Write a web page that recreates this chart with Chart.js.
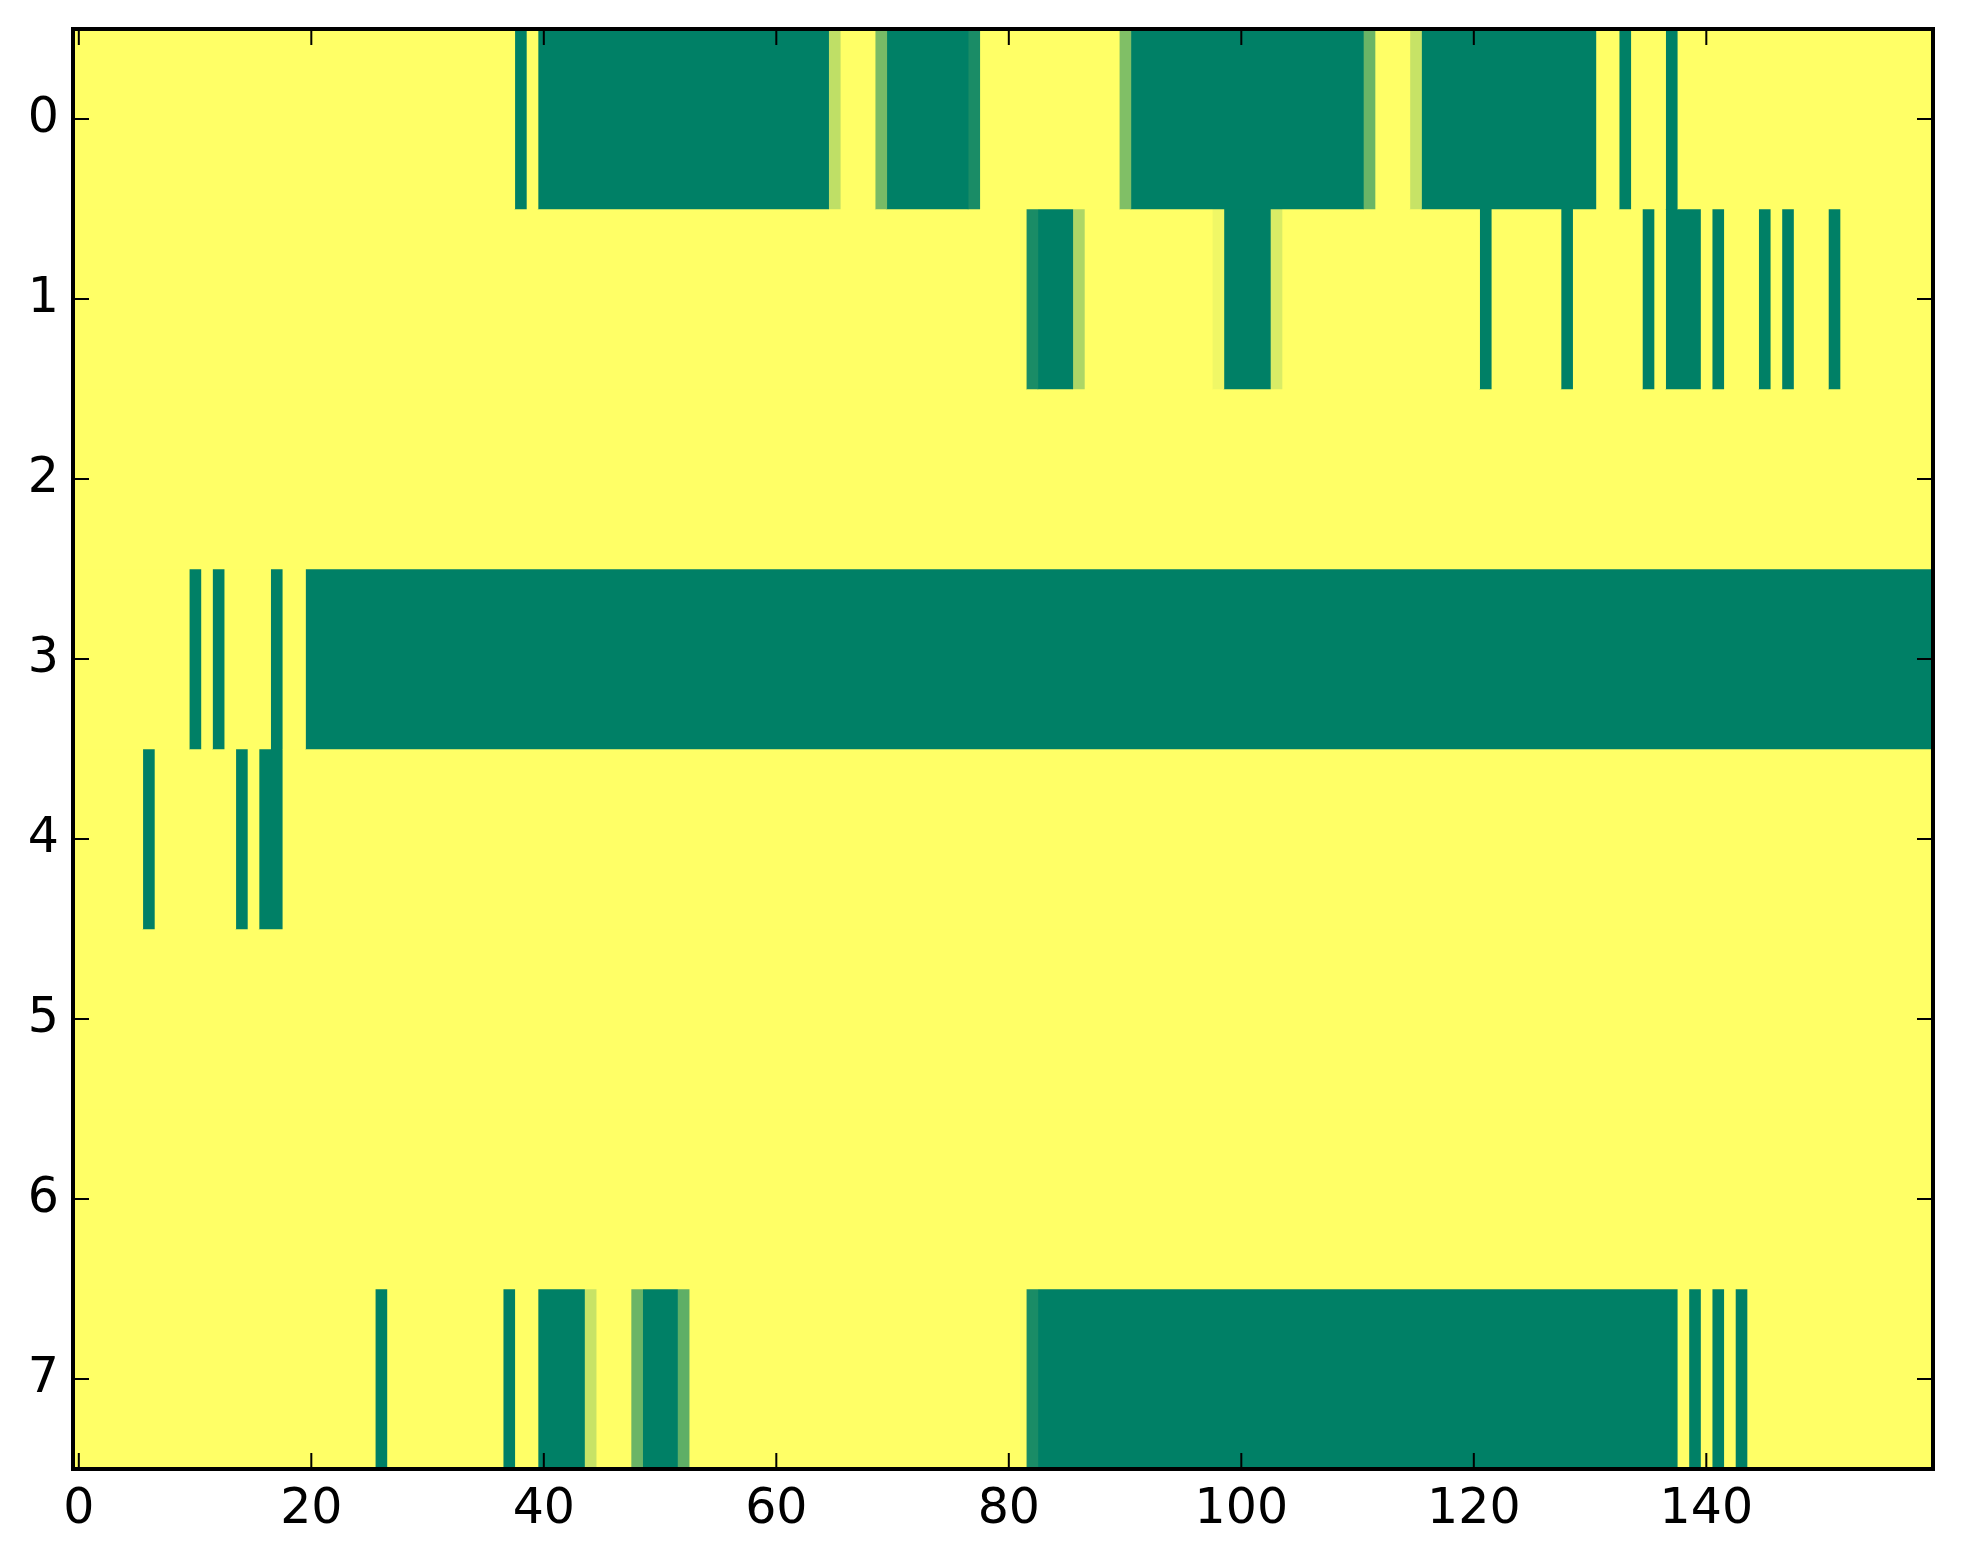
<!DOCTYPE html>
<html><head><meta charset="utf-8">
<script src="https://cdn.jsdelivr.net/npm/chart.js@4.4.1/dist/chart.umd.min.js"></script>
<style>html,body{margin:0;padding:0;background:#fff;overflow:hidden}#wrap{width:1963px;height:1564px}</style>
</head><body><div id="wrap"><canvas id="c" width="1963" height="1564"></canvas></div>
<script>
const rowLabels = ['0','1','2','3','4','5','6','7'];
const xTickValues = [0,20,40,60,80,100,120,140];

const row0 = [
1,1,1,1,1,1,1,1,1,1,1,1,1,1,1,1,1,1,1,1,
1,1,1,1,1,1,1,1,1,1,1,1,1,1,1,1,1,1,0,1,
0,0,0,0,0,0,0,0,0,0,0,0,0,0,0,0,0,0,0,0,
0,0,0,0,0,0.75,1,1,1,0.47,0,0,0,0,0,0,0,0.1,1,1,
1,1,1,1,1,1,1,1,1,1,0.5,0,0,0,0,0,0,0,0,0,
0,0,0,0,0,0,0,0,0,0,0,0.42,1,1,1,0.78,0,0,0,0,
0,0,0,0,0,0,0,0,0,0,0,1,1,0,1,1,1,0,1,1,
1,1,1,1,1,1,1,1,1,1,1,1,1,1,1,1,1,1,1,1];
const row1 = [
1,1,1,1,1,1,1,1,1,1,1,1,1,1,1,1,1,1,1,1,
1,1,1,1,1,1,1,1,1,1,1,1,1,1,1,1,1,1,1,1,
1,1,1,1,1,1,1,1,1,1,1,1,1,1,1,1,1,1,1,1,
1,1,1,1,1,1,1,1,1,1,1,1,1,1,1,1,1,1,1,1,
1,1,0.1,0,0,0,0.68,1,1,1,1,1,1,1,1,1,1,1,0.94,0,
0,0,0,0.85,1,1,1,1,1,1,1,1,1,1,1,1,1,1,1,1,
1,0,1,1,1,1,1,1,0,1,1,1,1,1,1,0,1,0,0,0,
1,0,1,1,1,0,1,0,1,1,1,0,1,1,1,1,1,1,1,1];
const row2 = [
1,1,1,1,1,1,1,1,1,1,1,1,1,1,1,1,1,1,1,1,
1,1,1,1,1,1,1,1,1,1,1,1,1,1,1,1,1,1,1,1,
1,1,1,1,1,1,1,1,1,1,1,1,1,1,1,1,1,1,1,1,
1,1,1,1,1,1,1,1,1,1,1,1,1,1,1,1,1,1,1,1,
1,1,1,1,1,1,1,1,1,1,1,1,1,1,1,1,1,1,1,1,
1,1,1,1,1,1,1,1,1,1,1,1,1,1,1,1,1,1,1,1,
1,1,1,1,1,1,1,1,1,1,1,1,1,1,1,1,1,1,1,1,
1,1,1,1,1,1,1,1,1,1,1,1,1,1,1,1,1,1,1,1];
const row3 = [
1,1,1,1,1,1,1,1,1,1,0,1,0,1,1,1,1,0,1,1,
0,0,0,0,0,0,0,0,0,0,0,0,0,0,0,0,0,0,0,0,
0,0,0,0,0,0,0,0,0,0,0,0,0,0,0,0,0,0,0,0,
0,0,0,0,0,0,0,0,0,0,0,0,0,0,0,0,0,0,0,0,
0,0,0,0,0,0,0,0,0,0,0,0,0,0,0,0,0,0,0,0,
0,0,0,0,0,0,0,0,0,0,0,0,0,0,0,0,0,0,0,0,
0,0,0,0,0,0,0,0,0,0,0,0,0,0,0,0,0,0,0,0,
0,0,0,0,0,0,0,0,0,0,0,0,0,0,0,0,0,0,0,0];
const row4 = [
1,1,1,1,1,1,0,1,1,1,1,1,1,1,0,1,0,0,1,1,
1,1,1,1,1,1,1,1,1,1,1,1,1,1,1,1,1,1,1,1,
1,1,1,1,1,1,1,1,1,1,1,1,1,1,1,1,1,1,1,1,
1,1,1,1,1,1,1,1,1,1,1,1,1,1,1,1,1,1,1,1,
1,1,1,1,1,1,1,1,1,1,1,1,1,1,1,1,1,1,1,1,
1,1,1,1,1,1,1,1,1,1,1,1,1,1,1,1,1,1,1,1,
1,1,1,1,1,1,1,1,1,1,1,1,1,1,1,1,1,1,1,1,
1,1,1,1,1,1,1,1,1,1,1,1,1,1,1,1,1,1,1,1];
const row5 = [
1,1,1,1,1,1,1,1,1,1,1,1,1,1,1,1,1,1,1,1,
1,1,1,1,1,1,1,1,1,1,1,1,1,1,1,1,1,1,1,1,
1,1,1,1,1,1,1,1,1,1,1,1,1,1,1,1,1,1,1,1,
1,1,1,1,1,1,1,1,1,1,1,1,1,1,1,1,1,1,1,1,
1,1,1,1,1,1,1,1,1,1,1,1,1,1,1,1,1,1,1,1,
1,1,1,1,1,1,1,1,1,1,1,1,1,1,1,1,1,1,1,1,
1,1,1,1,1,1,1,1,1,1,1,1,1,1,1,1,1,1,1,1,
1,1,1,1,1,1,1,1,1,1,1,1,1,1,1,1,1,1,1,1];
const row6 = [
1,1,1,1,1,1,1,1,1,1,1,1,1,1,1,1,1,1,1,1,
1,1,1,1,1,1,1,1,1,1,1,1,1,1,1,1,1,1,1,1,
1,1,1,1,1,1,1,1,1,1,1,1,1,1,1,1,1,1,1,1,
1,1,1,1,1,1,1,1,1,1,1,1,1,1,1,1,1,1,1,1,
1,1,1,1,1,1,1,1,1,1,1,1,1,1,1,1,1,1,1,1,
1,1,1,1,1,1,1,1,1,1,1,1,1,1,1,1,1,1,1,1,
1,1,1,1,1,1,1,1,1,1,1,1,1,1,1,1,1,1,1,1,
1,1,1,1,1,1,1,1,1,1,1,1,1,1,1,1,1,1,1,1];
const row7 = [
1,1,1,1,1,1,1,1,1,1,1,1,1,1,1,1,1,1,1,1,
1,1,1,1,1,1,0,1,1,1,1,1,1,1,1,1,1,0,1,1,
0,0,0,0,0.78,1,1,1,0.42,0,0,0,0.37,1,1,1,1,1,1,1,
1,1,1,1,1,1,1,1,1,1,1,1,1,1,1,1,1,1,1,1,
1,1,0.1,0,0,0,0,0,0,0,0,0,0,0,0,0,0,0,0,0,
0,0,0,0,0,0,0,0,0,0,0,0,0,0,0,0,0,0,0,0,
0,0,0,0,0,0,0,0,0,0,0,0,0,0,0,0,0,0,1,0,
1,0,1,0,1,1,1,1,1,1,1,1,1,1,1,1,1,1,1,1];

const rows = [row0, row1, row2, row3, row4, row5, row6, row7];

function summer(v) {
  return 'rgb(' + Math.round(255 * v) + ',' + Math.round(255 * (0.5 + v / 2)) + ',102)';
}

const datasets = [];
rows.forEach((vals, r) => {
  let start = 0;
  for (let c = 1; c <= vals.length; c++) {
    if (c === vals.length || vals[c] !== vals[start]) {
      const data = rowLabels.map(() => null);
      data[r] = [start - 0.5, c - 0.5];
      datasets.push({
        data,
        backgroundColor: summer(vals[start]),
        borderWidth: 0,
        borderSkipped: false,
        barPercentage: 1,
        categoryPercentage: 1,
        grouped: false
      });
      start = c;
    }
  }
});

const framePlugin = {
  id: 'frame',
  afterDatasetsDraw(chart) {
    const ctx = chart.ctx, a = chart.chartArea;
    const xs = chart.scales.x, ys = chart.scales.y;
    ctx.save();
    ctx.strokeStyle = '#000';
    ctx.lineWidth = 2;
    const tl = 16;
    xTickValues.forEach(v => {
      const px = xs.getPixelForValue(v);
      ctx.beginPath();
      ctx.moveTo(px, a.bottom); ctx.lineTo(px, a.bottom - tl);
      ctx.moveTo(px, a.top); ctx.lineTo(px, a.top + tl);
      ctx.stroke();
    });
    rowLabels.forEach((l, i) => {
      const py = ys.getPixelForValue(i);
      ctx.beginPath();
      ctx.moveTo(a.left, py); ctx.lineTo(a.left + tl, py);
      ctx.moveTo(a.right, py); ctx.lineTo(a.right - tl, py);
      ctx.stroke();
    });
    ctx.lineWidth = 4;
    ctx.strokeRect(a.left, a.top, a.right - a.left, a.bottom - a.top);
    ctx.restore();
  }
};

const font = { family: 'DejaVu Sans', size: 49 };

new Chart(document.getElementById('c'), {
  type: 'bar',
  data: { labels: rowLabels, datasets },
  options: {
    indexAxis: 'y',
    responsive: false,
    animation: false,
    devicePixelRatio: 1,
    layout: { padding: { left: 0, right: 30, top: 29, bottom: 0 } },
    plugins: { legend: { display: false }, tooltip: { enabled: false } },
    scales: {
      x: {
        type: 'linear', min: -0.5, max: 159.5, position: 'bottom',
        afterBuildTicks: s => { s.ticks = xTickValues.map(v => ({ value: v })); },
        afterFit: s => { s.height = 95; s.paddingLeft = 0; s.paddingRight = 0; },
        grid: { display: false, drawTicks: false },
        border: { display: false },
        ticks: { font, color: '#000', padding: 12, maxRotation: 0, autoSkip: false }
      },
      y: {
        type: 'category', labels: rowLabels, offset: true,
        afterFit: s => { s.width = 73; s.paddingTop = 0; s.paddingBottom = 0; },
        grid: { display: false, drawTicks: false },
        border: { display: false },
        ticks: { font, color: '#000', padding: 14 }
      }
    }
  },
  plugins: [framePlugin]
});
</script>
</body></html>
